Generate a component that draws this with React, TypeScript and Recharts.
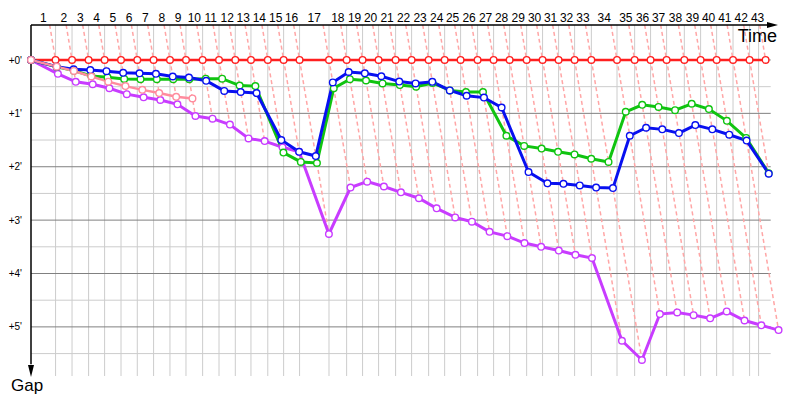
import React from 'react';
import { LineChart, Line, XAxis, YAxis, ReferenceLine, ReferenceDot } from 'recharts';

// leader's race time (minutes) at each marker, index 0 = start
const kmTimes = [
  0, 2.73, 4.56, 6.4, 8.18, 10.0, 11.81, 13.62, 15.44, 17.22, 19.07,
  20.89, 22.7, 24.44, 26.31, 28.07, 29.84, 33.11, 35.07, 36.84, 38.62,
  40.51, 42.29, 44.18, 45.96, 47.73, 49.62, 51.4, 53.18, 55.07, 56.84,
  58.62, 60.4, 62.26, 65.11, 67.07, 68.84, 70.62, 72.59, 74.4, 76.18,
  78.0, 79.84, 81.62,
];
const lastGridTime = 80.84;

const markerLabels = [
  '1', '2', '3', '4', '5', '6', '7', '8', '9', '10', '11', '12', '13', '14', '15',
  '16', '17', '18', '19', '20', '21', '22', '23', '24', '25', '26', '27', '28', '29',
  '30', '31', '32', '33', '34', '35', '36', '37', '38', '39', '40', '41', '42', '43',
];
const gapTicks = [0, 1, 2, 3, 4, 5];
const halfTicks = [0.5, 1.5, 2.5, 3.5, 4.5, 5.5];

// gap to the leader (minutes) at each marker
const redGap = [
  0, 0, 0, 0, 0, 0, 0, 0, 0, 0, 0, 0, 0, 0, 0, 0, 0, 0, 0, 0, 0, 0,
  0, 0, 0, 0, 0, 0, 0, 0, 0, 0, 0, 0, 0, 0, 0, 0, 0, 0, 0, 0, 0, 0,
];
const blueGap = [
  0, 0.125, 0.175, 0.19, 0.21, 0.24, 0.25, 0.26, 0.31, 0.33, 0.39,
  0.58, 0.6, 0.62, 1.5, 1.72, 1.8, 0.42, 0.225, 0.25, 0.305,
  0.405, 0.44, 0.41, 0.57, 0.67, 0.705, 0.89, 2.1, 2.31, 2.32,
  2.35, 2.39, 2.4, 1.42, 1.27, 1.3, 1.37, 1.22, 1.3, 1.4,
  1.51, 2.13,
];
const greenGap = [
  0, 0.13, 0.2, 0.3, 0.325, 0.356, 0.36, 0.36, 0.36, 0.36, 0.35,
  0.35, 0.48, 0.49, 1.735, 1.91, 1.93, 0.53, 0.36, 0.385, 0.44,
  0.47, 0.5, 0.43, 0.57, 0.6, 0.6, 1.42, 1.61, 1.66, 1.72,
  1.77, 1.85, 1.91, 0.97, 0.84, 0.88, 0.94, 0.82, 0.92, 1.14,
  1.46, 2.12,
];
const purpleGap = [
  0, 0.26, 0.41, 0.455, 0.53, 0.64, 0.7, 0.75, 0.83, 1.05, 1.1,
  1.21, 1.47, 1.52, 1.635, 1.72, 3.26, 2.39, 2.28, 2.37, 2.48,
  2.59, 2.78, 2.95, 3.03, 3.22, 3.3, 3.43, 3.5, 3.57, 3.65,
  3.71, 5.26, 5.62, 4.76, 4.73, 4.78, 4.84, 4.71, 4.88, 4.97,
  5.06,
];
const pinkGap = [0, 0.125, 0.206, 0.31, 0.406, 0.49, 0.56, 0.62, 0.69, 0.72];

const Y_TOP = -0.655;
const Y_BOTTOM = 5.92;
const X_MAX = 83.22;
const X_GRID_END = 82.19;

// a group passes marker k at leader time + gap
const toPoints = (gaps: number[]) =>
  gaps.map((g, k) => ({ time: kmTimes[k] + g, gap: g }));

const series = [
  { name: 'red', gaps: redGap, color: '#ff2020', width: 2.5 },
  { name: 'purple', gaps: purpleGap, color: '#c83cff', width: 3 },
  { name: 'green', gaps: greenGap, color: '#10c410', width: 3 },
  { name: 'blue', gaps: blueGap, color: '#0810f0', width: 3 },
  { name: 'pink', gaps: pinkGap, color: '#ff8c9e', width: 2.5 },
];

// dashed marker lines: from top of chart down to last group at that marker
const markerLines = kmTimes.slice(1).map((t, i) => {
  const k = i + 1;
  const gaps = series.filter((s) => s.gaps.length > k).map((s) => s.gaps[k]);
  const last = Math.max(...gaps);
  return [
    { time: t + Y_TOP, gap: Y_TOP },
    { time: t + last, gap: last },
  ];
});

const labelTicks = kmTimes.slice(1).map((t, i) => (kmTimes[i] + t) / 2);
const gridTimes = [...kmTimes.slice(1, 43), lastGridTime];

const font = "'Liberation Sans', sans-serif";
const bigFont = "'Liberation Sans Narrow', 'Liberation Sans', sans-serif";

export default function App() {
  return (
    <div style={{ position: 'absolute', left: 0, top: 0, background: '#fff' }}>
      <LineChart width={800} height={400} margin={{ top: 0, right: 20, bottom: 24, left: 1 }}>
        <XAxis
          dataKey="time"
          type="number"
          orientation="top"
          domain={[0, X_MAX]}
          ticks={labelTicks}
          interval={0}
          tickFormatter={(_v: number, i: number) => markerLabels[i]}
          tick={{ fontSize: 12, fill: '#000', fontFamily: font }}
          tickLine={false}
          tickSize={0}
          tickMargin={3}
          axisLine={false}
          height={25}
          label={{
            content: (p: any) => (
              <text
                x={p.viewBox.x + p.viewBox.width - 3}
                y={p.viewBox.y + p.viewBox.height + 17}
                textAnchor="end"
                fontSize={18}
                fontFamily={bigFont}
                fill="#000"
              >
                Time
              </text>
            ),
          }}
        />
        <YAxis
          type="number"
          reversed
          domain={[Y_TOP, Y_BOTTOM]}
          ticks={gapTicks}
          interval={0}
          tickFormatter={(v: number) => `+${v}'`}
          tick={{ fontSize: 10, fill: '#000', fontFamily: font }}
          tickLine={false}
          tickSize={0}
          tickMargin={9}
          axisLine={false}
          width={30}
          label={{
            content: (p: any) => (
              <text
                x={p.viewBox.x + 10}
                y={p.viewBox.y + p.viewBox.height + 15}
                textAnchor="start"
                fontSize={17}
                fontFamily={bigFont}
                fill="#000"
              >
                Gap
              </text>
            ),
          }}
        />

        {gridTimes.map((t) => (
          <ReferenceLine key={`v${t}`} x={t} stroke="#cccccc" strokeWidth={1} />
        ))}
        {halfTicks.map((v) => (
          <ReferenceLine
            key={`h${v}`}
            segment={[{ x: 0, y: v }, { x: X_GRID_END, y: v }]}
            stroke="#cccccc"
            strokeWidth={1}
          />
        ))}
        {gapTicks.map((v) => (
          <ReferenceLine
            key={`m${v}`}
            segment={[{ x: 0, y: v }, { x: X_GRID_END, y: v }]}
            stroke="#808080"
            strokeWidth={1}
          />
        ))}

        {markerLines.map((pts, i) => (
          <Line
            key={`d${i}`}
            data={pts}
            dataKey="gap"
            type="linear"
            stroke="#ffa6a6"
            strokeWidth={1.5}
            strokeDasharray="4 3"
            dot={false}
            activeDot={false}
            isAnimationActive={false}
          />
        ))}

        {series.map((s) => (
          <Line
            key={s.name}
            data={toPoints(s.gaps)}
            dataKey="gap"
            type="linear"
            stroke={s.color}
            strokeWidth={s.width}
            dot={{ r: 3.3, fill: '#fff', stroke: s.color, strokeWidth: 1.4 }}
            activeDot={false}
            isAnimationActive={false}
          />
        ))}

        {/* axes with arrow heads */}
        <ReferenceLine
          segment={[{ x: 0, y: Y_TOP }, { x: 81.8, y: Y_TOP }]}
          stroke="#000"
          strokeWidth={1.5}
        />
        <ReferenceLine
          segment={[{ x: 0, y: Y_TOP }, { x: 0, y: 5.7 }]}
          stroke="#000"
          strokeWidth={1.5}
        />
        <ReferenceDot
          x={83.0}
          y={Y_TOP}
          ifOverflow="visible"
          shape={(p: any) => (
            <polygon
              points={`${p.cx},${p.cy} ${p.cx - 11},${p.cy - 3} ${p.cx - 11},${p.cy + 3}`}
              fill="#000"
            />
          )}
        />
        <ReferenceDot
          x={0}
          y={Y_BOTTOM}
          ifOverflow="visible"
          shape={(p: any) => (
            <polygon
              points={`${p.cx},${p.cy + 1} ${p.cx - 3},${p.cy - 11} ${p.cx + 3},${p.cy - 11}`}
              fill="#000"
            />
          )}
        />
      </LineChart>
    </div>
  );
}
